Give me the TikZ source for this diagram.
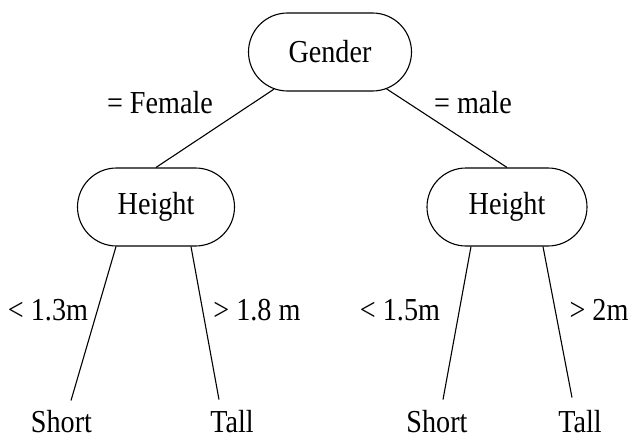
\documentclass[tikz,border=0pt]{standalone}
\usepackage{fontspec}
\setmainfont{Liberation Serif}[FakeStretch=0.88]
\usetikzlibrary{shapes.misc}
\begin{document}
\begin{tikzpicture}[x=1pt,y=-1pt,
  every node/.style={font=\fontsize{32}{32}\selectfont, inner sep=0pt},
  decision/.style={rounded rectangle, draw, line width=1.1pt, minimum height=78pt},
  branch/.style={line width=1.1pt},
  lbl/.style={anchor=center}]
\useasboundingbox (0,0) rectangle (633,439);
\node[decision, minimum width=163pt] (g) at (330,52) {Gender};
\node[decision, minimum width=157pt] (h1) at (156,207) {Height};
\node[decision, minimum width=160pt] (h2) at (507,207) {Height};
\node (s1) at (61.5,422) {Short};
\node (t1) at (232,422) {Tall};
\node (s2) at (437,422) {Short};
\node (t2) at (580,422) {Tall};
\draw[branch] (g) -- (h1.north);
\draw[branch] (g) -- (h2.north);
\draw[branch] ([xshift=-40pt]h1.south) -- ([xshift=9.5pt,yshift=10pt]s1.north);
\draw[branch] ([xshift=35pt]h1.south) -- ([xshift=-13pt,yshift=11pt]t1.north);
\draw[branch] ([xshift=-36pt]h2.south) -- ([xshift=6pt,yshift=11pt]s2.north);
\draw[branch] ([xshift=36pt]h2.south) -- ([xshift=-8pt,yshift=13pt]t2.north);
\node[lbl] (lf) at (160,103) {= Female};
\node[lbl] (lm) at (473,103) {= male};
\node[lbl] (l1) at (48,310) {< 1.3m};
\node[lbl] (l2) at (257,310) {> 1.8 m};
\node[lbl] (l3) at (400,310) {< 1.5m};
\node[lbl] (l4) at (599,310) {> 2m};
\end{tikzpicture}
\end{document}
